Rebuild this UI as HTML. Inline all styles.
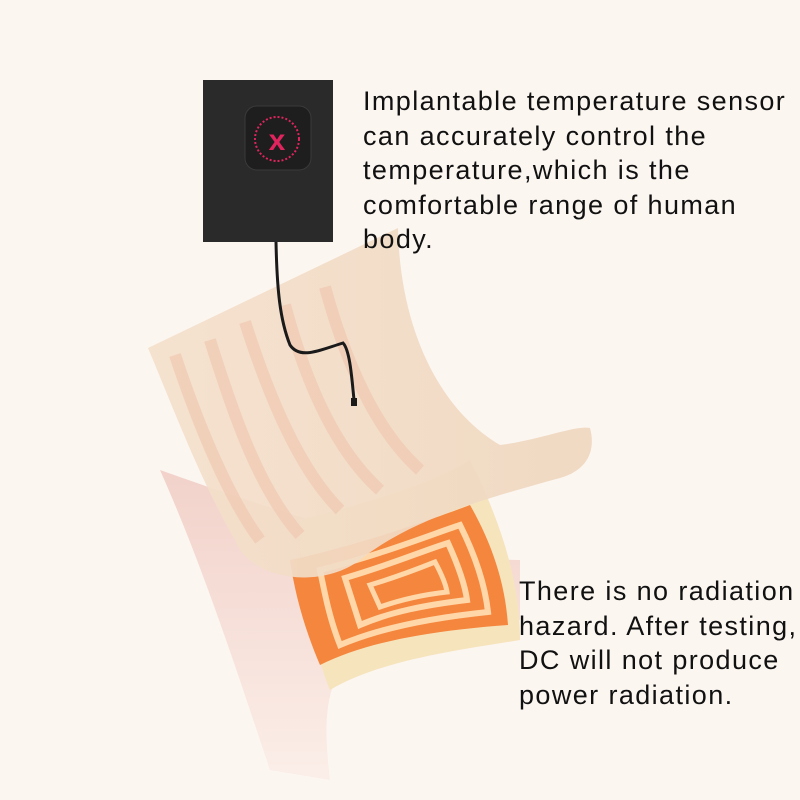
<!DOCTYPE html>
<html><head><style>
body{margin:0;background:#fcf6f1;}
.w{position:relative;width:800px;height:800px;overflow:hidden;background:#fcf6f1;font-family:"Liberation Sans",sans-serif;}
.t{position:absolute;font-size:27px;line-height:34.5px;color:#111;letter-spacing:1.4px;white-space:nowrap;}
</style></head><body><div class="w">
<svg width="800" height="800" style="position:absolute;left:0;top:0">
<defs>
<linearGradient id="pk" x1="0" y1="0" x2="0" y2="1"><stop offset="0" stop-color="#efc9c0"/><stop offset="1" stop-color="#fbece6"/></linearGradient>
<linearGradient id="sh" x1="0" y1="0" x2="1" y2="0"><stop offset="0" stop-color="#f4e0cc"/><stop offset="1" stop-color="#efd7bf"/></linearGradient>
</defs>
<path d="M160,470 C200,560 230,650 270,770 L330,780 C320,700 330,660 380,640 L520,620 L520,560 C430,560 300,520 160,470Z" fill="url(#pk)" opacity="0.8"/>
<path d="M300,520 C380,500 440,480 470,460 C500,520 520,580 520,640 C460,650 380,660 330,690 C310,640 300,580 300,520Z" fill="#f6e4bd"/>
<path d="M290,560 C360,545 430,520 470,505 C490,540 505,580 508,625 C440,630 370,640 320,665 C305,630 295,595 290,560Z" fill="#f5863e"/>
<path d="M320,570 C380,555 430,535 460,525 C475,555 485,585 488,612 C430,618 380,628 340,645 C330,620 325,595 320,570Z" fill="none" stroke="#ffd7a8" stroke-width="6"/>
<path d="M345,578 C390,565 425,550 448,543 C458,565 465,585 467,600 C425,605 390,612 360,625Z" fill="none" stroke="#ffd7a8" stroke-width="6"/>
<path d="M370,585 C400,576 420,568 435,562 C442,575 446,585 447,592 C420,595 400,600 380,607Z" fill="none" stroke="#ffd7a8" stroke-width="5"/>
<path d="M148,348 L398,228 C400,330 440,410 500,445 C540,440 575,425 590,428 C596,450 588,470 560,478 C480,500 410,520 360,560 C320,590 250,580 235,540 C200,480 170,400 148,348Z" fill="url(#sh)" opacity="0.92"/>
<g fill="none" stroke="#f0c0a8" stroke-width="12" opacity="0.5">
<path d="M175,355 C200,430 230,500 260,540"/>
<path d="M210,340 C235,420 260,490 300,535"/>
<path d="M245,322 C270,400 300,470 340,510"/>
<path d="M285,305 C305,380 335,450 380,490"/>
<path d="M325,287 C345,360 375,430 420,470"/>
</g>
<rect x="203" y="80" width="130" height="162" fill="#2a2a2a"/>
<rect x="245" y="106" width="66" height="64" rx="12" fill="#1e1e1e" stroke="#3a3a3a"/>
<circle cx="277" cy="139" r="22" fill="none" stroke="#e0245e" stroke-width="2" stroke-dasharray="2 2"/>
<text x="277" y="150" font-family="Liberation Sans" font-weight="bold" font-size="30" fill="#e0245e" text-anchor="middle">x</text>
<path d="M276,242 C277,290 280,320 290,345 C300,360 320,350 343,343 C350,350 352,380 354,400" fill="none" stroke="#1a1a1a" stroke-width="3"/>
<rect x="351" y="398" width="6" height="8" fill="#1a1a1a"/>
</svg>
<div class="t" style="left:363px;top:84px">Implantable temperature sensor<br>can accurately control the<br>temperature,which is the<br>comfortable range of human<br>body.</div>
<div class="t" style="left:519px;top:574px">There is no radiation<br>hazard. After testing,<br>DC will not produce<br>power radiation.</div>
</div></body></html>
